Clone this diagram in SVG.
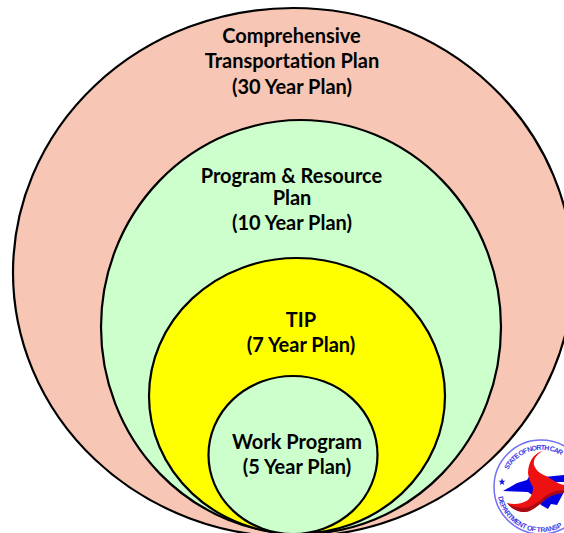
<svg xmlns="http://www.w3.org/2000/svg" width="564" height="533" viewBox="0 0 564 533">
<style>
.n{stroke:#000;stroke-width:2.2}
.t{font-family:Lato,"Open Sans","Liberation Sans",sans-serif;font-weight:700;font-size:20px;text-anchor:middle;fill:#000}
.s{font-family:"Liberation Sans",Arial,sans-serif;font-size:7px;font-weight:700;fill:#4040e8}
</style>
<defs>
<path id="arcTop" d="M508 470A38 38 0 0 1 565 458"/>
<path id="arcBot" d="M498 497A44 44 0 0 0 565 525"/>
</defs>
<rect width="564" height="533" fill="#fff"/>
<g id="connectors"/>
<g id="comprehensive">
<ellipse class="n" cx="293" cy="272.500" rx="280" ry="264.500" fill="#f7c6b4"/>
<text class="t" x="291.500" y="42.700">Comprehensive</text>
<text class="t" x="292" y="67.700">Transportation Plan</text>
<text class="t" x="292" y="93.700">(30 Year Plan)</text>
</g>
<g id="program">
<ellipse class="n" cx="301" cy="327" rx="200" ry="207" fill="#ccffcc"/>
<text class="t" x="291.500" y="182.700">Program &amp; Resource</text>
<text class="t" x="292" y="204.700">Plan</text>
<text class="t" x="292" y="229.700">(10 Year Plan)</text>
</g>
<g id="tip">
<ellipse class="n" cx="297" cy="396" rx="148" ry="138" fill="#ffff00"/>
<text class="t" x="301" y="326.700">TIP</text>
<text class="t" x="301" y="351.700">(7 Year Plan)</text>
</g>
<g id="work">
<ellipse class="n" cx="293" cy="455" rx="84.500" ry="79" fill="#ccffcc"/>
<text class="t" x="297" y="448.700">Work Program</text>
<text class="t" x="297" y="473.700">(5 Year Plan)</text>
</g>
<g id="seal">
<circle cx="541" cy="487" r="47" fill="#fff" stroke="#7070f5" stroke-width="1.500"/>
<text class="s"><textPath href="#arcTop" textLength="62" lengthAdjust="spacing">STATE OF NORTH CAR</textPath></text>
<text class="s"><textPath href="#arcBot" textLength="82" lengthAdjust="spacing">DEPARTMENT OF TRANSP</textPath></text>
<polygon points="502,478 502.900,480.700 505.500,480.700 503.400,482.300 504.200,485 502,483.400 499.800,485 500.600,482.300 498.500,480.700 501.100,480.700" fill="#1515e0"/>
<path d="M503 491L517 483L527 480L530 475L538 474L544 477L564 475V482L552 482L548 490L564 492L557 505L551 504L548 509L541 505L535 497L528 492Z" fill="#0000e6"/>
<path d="M543 451C533 453 528 463 528 473C529 480 531 484 533 487C533 493 531 497 528 500C522 504 514 505 507 503C512 509 518 512 524 512C532 512 540 504 547 498C552 495 558 493 564 493V485C558 484 553 480 548 477C541 474 536 471 534 465C533 459 537 454 543 451Z" fill="#ee1111"/>
<path d="M507 503C512 509 518 512 524 512C532 512 540 504 547 498C552 495 558 493 564 493V490C556 490 549 493 543 498C536 504 530 508 522 508C516 508 512 506 507 503Z" fill="#a80a14"/>
</g>
</svg>
